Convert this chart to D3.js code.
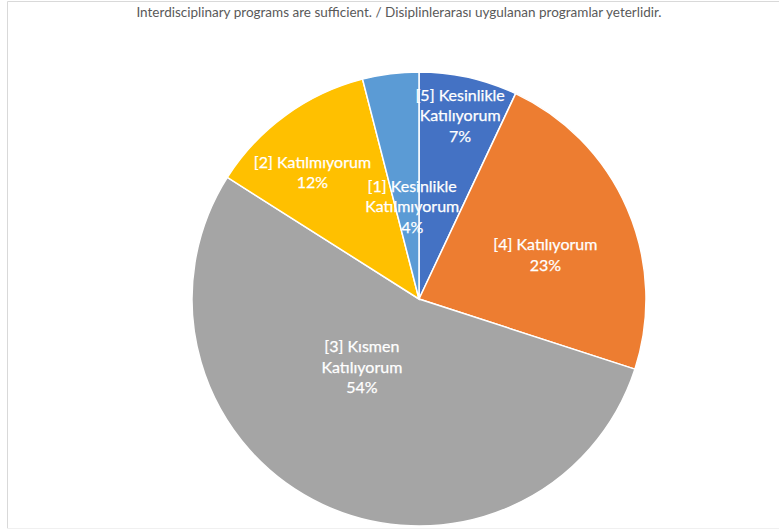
<html>
<head>
<meta charset="utf-8">
<title>Interdisciplinary programs pie</title>
<script src="https://cdnjs.cloudflare.com/ajax/libs/d3/7.8.5/d3.min.js"></script>
<style>
  body { margin: 0; background: #fff; }
  svg { display: block; }
</style>
</head>
<body>
<svg class="chart"></svg>
<script>
// data (clockwise from 12 o'clock)
var categories = ["[5] Kesinlikle Katılıyorum", "[4] Katılıyorum", "[3] Kısmen Katılıyorum", "[2] Katılmıyorum", "[1] Kesinlikle Katılmıyorum"];
var labelLines = [["[5] Kesinlikle", "Katılıyorum"], ["[4] Katılıyorum"], ["[3] Kısmen", "Katılıyorum"], ["[2] Katılmıyorum"], ["[1] Kesinlikle", "Katılmıyorum"]];
var values = [7, 23, 54, 12, 4];
var colors = ["#4472C4", "#ED7D31", "#A5A5A5", "#FFC000", "#5B9BD5"];
var title = "Interdisciplinary programs are sufficient. / Disiplinlerarası uygulanan programlar yeterlidir.";

var width = 779, height = 529;
var cx = 419, cy = 299, radius = 227;
// where each label sits, as a fraction of the radius (Excel "best fit")
var labelR = [0.83, 0.59, 0.39, 0.73, 0.41];
var labelShift = [0, 4, 15, -4, 3]; // degrees
var lineH = 20.5;

var svg = d3.select(".chart").attr("width", width).attr("height", height);

// frame
svg.append("path")
   .attr("d", "M7.5,529 V1.5 H779")
   .attr("fill", "none").attr("stroke", "#d9d9d9").attr("stroke-width", 1);
svg.append("line").attr("x1", 7).attr("x2", 779).attr("y1", 528.5).attr("y2", 528.5)
   .attr("stroke", "#f0f0f0");

svg.append("text")
   .attr("x", 399).attr("y", 17)
   .attr("text-anchor", "middle")
   .attr("font-family", "Lato, 'Open Sans', sans-serif")
   .attr("font-size", 13.5)
   .attr("fill", "#595959")
   .text(title);

var pie = d3.pie().sort(null).value(function(d){ return d; });
var arcs = pie(values);
var arc = d3.arc().innerRadius(0).outerRadius(radius);

var g = svg.append("g").attr("transform", "translate(" + cx + "," + cy + ")");

g.selectAll("path.slice")
  .data(arcs)
  .enter()
  .append("path")
  .attr("class", "slice")
  .attr("d", arc)
  .attr("fill", function(d, i){ return colors[i]; })
  .attr("stroke", "#fff")
  .attr("stroke-width", 1.5);

var total = d3.sum(values);
var lbl = g.selectAll("text.lbl")
  .data(arcs)
  .enter()
  .append("text")
  .attr("class", "lbl")
  .attr("text-anchor", "middle")
  .attr("font-family", "Lato, 'Open Sans', sans-serif")
  .attr("font-size", 16)
  .attr("fill", "#fff")
  .attr("stroke", "#fff")
  .attr("stroke-width", 0.25)
  .attr("transform", function(d, i){
     var a = (d.startAngle + d.endAngle) / 2 + labelShift[i] * Math.PI / 180;
     var r = radius * labelR[i];
     var lines = labelLines[i].length + 1;
     var x = r * Math.sin(a), y = -r * Math.cos(a) - (lines - 1) * lineH / 2 + 6;
     return "translate(" + x + "," + y + ")";
  });

lbl.each(function(d, i){
  var t = d3.select(this);
  labelLines[i].concat([Math.round(values[i] / total * 100) + "%"]).forEach(function(s, k){
    t.append("tspan").attr("x", 0).attr("dy", k === 0 ? 0 : lineH).text(s);
  });
});
</script>
</body>
</html>
